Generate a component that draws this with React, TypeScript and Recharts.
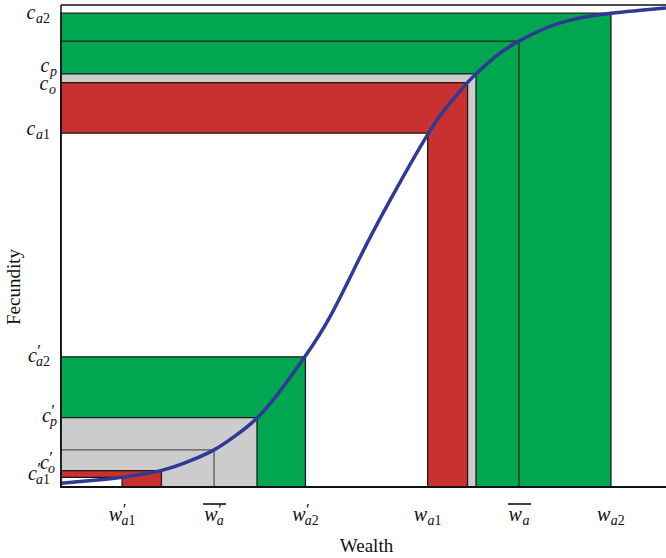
import React from 'react';
import { ComposedChart, Line, XAxis, YAxis, ReferenceArea, ReferenceLine, Label } from 'recharts';

// fecundity curve (wealth 0-100, fecundity 0-100)
const curveW = [0, 6.4, 10.1, 16.5, 21.3, 25.3, 28.8, 32.4, 36.2, 40.3, 44.5, 49.4, 54.4, 60.7, 64.3, 67.1, 68.6, 71.7, 75.7, 82.5, 90.9, 100];
const curveF = [0.8, 1.5, 2.0, 3.4, 5.4, 7.7, 10.6, 14.3, 19.9, 27.0, 35.4, 47.6, 59.5, 73.3, 79.7, 83.8, 85.7, 89.2, 92.5, 96.3, 98.3, 99.4];

// nested rectangles, drawn largest first
const rectW = [90.9, 75.7, 68.6, 67.2, 60.6, 40.4, 32.4, 25.3, 16.6, 10.1];
const rectC = [98.3, 92.5, 85.7, 83.9, 73.4, 27.0, 14.4, 7.7, 3.4, 2.0];
const rectKind = ['green', 'greenLine', 'gray', 'red', 'white', 'green', 'gray', 'grayLine', 'red', 'white'];

// axis ticks
const xTicks = [10.1, 25.3, 40.4, 60.6, 75.7, 90.9];
const xTickLabels = ["w'_a1", "w'_a-bar", "w'_a2", 'w_a1', 'w_a-bar', 'w_a2'];
const yTicks = [98.3, 85.7, 83.9, 73.4, 27.0, 14.4, 3.4, 2.0];
const yTickLabels = ['c_a2', 'c_p', 'c_o', 'c_a1', "c'_a2", "c'_p", "c'_o", "c'_a1"];

const data = curveW.map((w, i) => ({ w, f: curveF[i] }));

const styles: Record<string, { fill: string; stroke: string; sw: number }> = {
  green: { fill: '#00a650', stroke: '#1a1a1a', sw: 1.3 },
  greenLine: { fill: '#00a650', stroke: '#111', sw: 1 },
  gray: { fill: '#cccccc', stroke: '#1a1a1a', sw: 1.3 },
  grayLine: { fill: '#cccccc', stroke: '#555', sw: 1.3 },
  red: { fill: '#c83130', stroke: '#1a1a1a', sw: 1.3 },
  white: { fill: '#ffffff', stroke: '#1a1a1a', sw: 1.3 },
};

// label nudges (end-anchor x offset from axis, baseline offset from tick)
const yLabelDx = [-11, -4, -5, -11, -11, -4, -6, -11];
const yLabelDy = [6, -2, 7, 2, 5, 4, -2, 3];

const FONT = '"Liberation Serif", "DejaVu Serif", serif';

const MathLabel = ({ code, x, y, anchor }: { code: string; x: number; y: number; anchor: string }) => {
  const bar = code.endsWith('-bar');
  const clean = code.replace('-bar', '');
  const [head, sub] = clean.split('_');
  const base = head[0];
  const prime = head.includes("'");
  const subItalic = sub.replace(/[0-9]/g, '');
  const subNum = sub.replace(/[a-z]/g, '');
  return (
    <g>
      <text x={x} y={y} textAnchor={anchor} fontFamily={FONT} fontStyle="italic" fontSize={20} fill="#111">
        {base}
        {prime ? (
          <>
            <tspan fontSize={17} fontStyle="normal" dx={0.5} dy={-6}>′</tspan>
            <tspan fontSize={14} dx={-5} dy={10}>{subItalic}</tspan>
          </>
        ) : (
          <tspan fontSize={14} dx={0.5} dy={4}>{subItalic}</tspan>
        )}
        {subNum ? <tspan fontSize={14} fontStyle="normal">{subNum}</tspan> : null}
      </text>
      {bar ? <line x1={x - 11} x2={x + 12} y1={y - 17} y2={y - 17} stroke="#111" strokeWidth={1.6} /> : null}
    </g>
  );
};

const XTick = (props: any) => {
  const { x, y, index } = props;
  return <MathLabel code={xTickLabels[index]} x={x} y={y + 34} anchor="middle" />;
};

const YTick = (props: any) => {
  const { x, y, index } = props;
  return <MathLabel code={yTickLabels[index]} x={x + yLabelDx[index]} y={y + yLabelDy[index]} anchor="end" />;
};

const App: React.FC = () => {
  return (
    <div style={{ position: 'absolute', left: 0, top: 0 }}>
      <ComposedChart width={666} height={558} data={data} margin={{ top: 5, right: 0, bottom: 0, left: 0 }}>
        {rectW.map((w, i) => {
          const s = styles[rectKind[i]];
          return (
            <ReferenceArea
              key={i}
              x1={0}
              x2={w}
              y1={0}
              y2={rectC[i]}
              fill={s.fill}
              fillOpacity={1}
              stroke={s.stroke}
              strokeWidth={s.sw}
              ifOverflow="visible"
            />
          );
        })}
        <ReferenceLine y={100} stroke="#111" strokeWidth={1.5} ifOverflow="visible" />
        <XAxis
          type="number"
          dataKey="w"
          domain={[0, 100]}
          ticks={xTicks}
          interval={0}
          height={71}
          tickLine={false}
          tickSize={0}
          tickMargin={0}
          axisLine={{ stroke: '#111', strokeWidth: 2.2 }}
          tick={<XTick />}
        >
          <Label value="Wealth" position="insideBottom" offset={6} fontFamily={FONT} fontSize={19} fill="#111" dx={3} />
        </XAxis>
        <YAxis
          type="number"
          domain={[0, 100]}
          ticks={yTicks}
          interval={0}
          width={61}
          tickLine={false}
          tickSize={0}
          tickMargin={0}
          axisLine={{ stroke: '#111', strokeWidth: 1.5 }}
          tick={<YTick />}
        >
          <Label
            content={() => (
              <text
                x={20}
                y={287}
                transform="rotate(-90 20 287)"
                textAnchor="middle"
                fontFamily={FONT}
                fontSize={19}
                fill="#111"
              >
                Fecundity
              </text>
            )}
          />
        </YAxis>
        <Line
          type="natural"
          dataKey="f"
          stroke="#2f3a96"
          strokeWidth={3.5}
          dot={false}
          activeDot={false}
          isAnimationActive={false}
        />
      </ComposedChart>
    </div>
  );
};

export default App;
